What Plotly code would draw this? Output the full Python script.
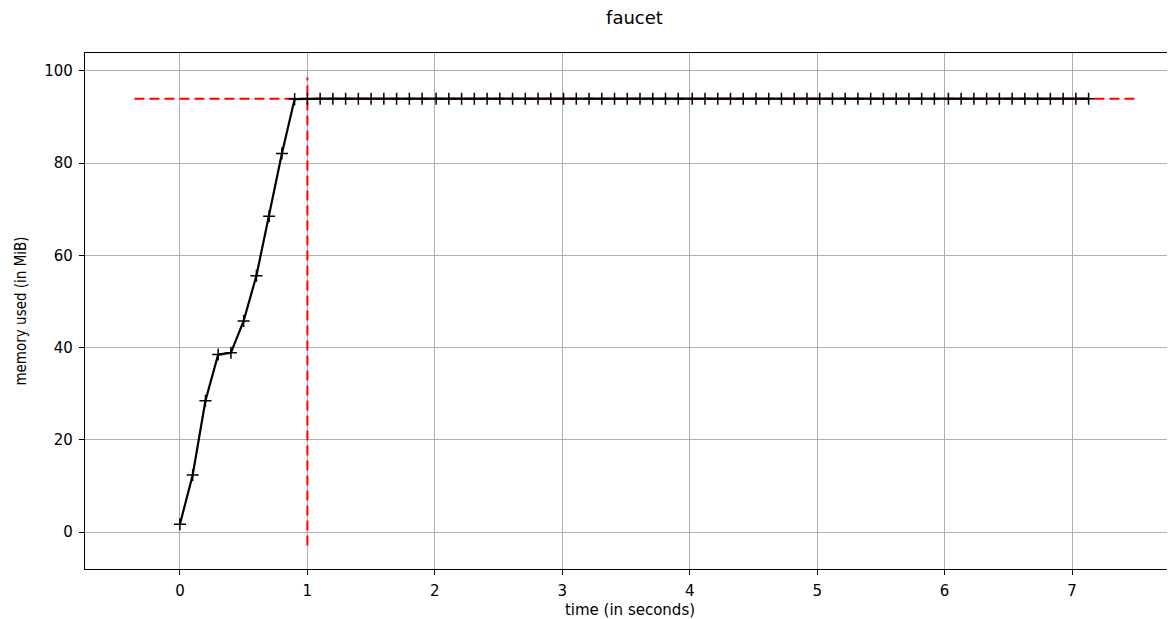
import plotly.graph_objects as go

# data
time_s = [0.00, 0.10, 0.20, 0.30, 0.40, 0.50, 0.60, 0.70, 0.80, 0.90,
          1.00, 1.10, 1.20, 1.30, 1.40, 1.50, 1.60, 1.70, 1.80, 1.90,
          2.01, 2.11, 2.21, 2.31, 2.41, 2.51, 2.61, 2.71, 2.81, 2.91,
          3.01, 3.11, 3.21, 3.31, 3.41, 3.51, 3.61, 3.71, 3.81, 3.91,
          4.02, 4.12, 4.22, 4.32, 4.42, 4.52, 4.62, 4.72, 4.82, 4.92,
          5.02, 5.12, 5.22, 5.32, 5.42, 5.52, 5.62, 5.72, 5.82, 5.92,
          6.03, 6.13, 6.23, 6.33, 6.43, 6.53, 6.63, 6.73, 6.83, 6.93,
          7.03, 7.13]
memory_mib = [1.7, 12.4, 28.5, 38.5, 38.9, 45.8, 55.6, 68.5, 82.1, 93.9,
              94.0, 94.0, 94.0, 94.0, 94.0, 94.0, 94.0, 94.0, 94.0, 94.0,
              94.0, 94.0, 94.0, 94.0, 94.0, 94.0, 94.0, 94.0, 94.0, 94.0,
              94.0, 94.0, 94.0, 94.0, 94.0, 94.0, 94.0, 94.0, 94.0, 94.0,
              94.0, 94.0, 94.0, 94.0, 94.0, 94.0, 94.0, 94.0, 94.0, 94.0,
              94.0, 94.0, 94.0, 94.0, 94.0, 94.0, 94.0, 94.0, 94.0, 94.0,
              94.0, 94.0, 94.0, 94.0, 94.0, 94.0, 94.0, 94.0, 94.0, 94.0,
              94.0, 94.0]
max_mem = 94.0
t_max = 1.00
hline_x = [-0.357, 7.49]
vline_y = [-2.9, 98.6]
x_ticks = [0, 1, 2, 3, 4, 5, 6, 7]
y_ticks = [0, 20, 40, 60, 80, 100]

FONT = "DejaVu Sans"
W, H = 1167, 611  # page body has an 8px margin

fig = go.Figure()
fig.add_trace(go.Scatter(x=hline_x, y=[max_mem, max_mem], mode="lines",
                         line=dict(color="red", width=2, dash="10px,5px"),
                         showlegend=False, hoverinfo="skip"))
fig.add_trace(go.Scatter(x=[t_max, t_max], y=vline_y, mode="lines",
                         line=dict(color="red", width=2, dash="10px,5px"),
                         showlegend=False, hoverinfo="skip"))
fig.add_trace(go.Scatter(x=time_s, y=memory_mib, mode="lines+markers",
                         line=dict(color="black", width=2.2),
                         marker=dict(symbol="cross-thin", size=8.6,
                                     line=dict(color="black", width=1.5)),
                         showlegend=False))

fig.update_layout(
    width=W, height=H, autosize=False,
    margin=dict(l=77, r=0, t=45, b=H - 561, autoexpand=False),
    paper_bgcolor="white", plot_bgcolor="white",
    font=dict(family=FONT, size=15, color="black"),
    title=dict(text="faucet", x=626.5 / W, xanchor="center",
               y=1 - 10 / H, yanchor="middle", yref="container",
               font=dict(family=FONT, size=18, color="black")),
    xaxis=dict(range=[-0.745, 7.808], tickvals=x_ticks, automargin=False,
               showgrid=True, gridcolor="#b0b0b0", gridwidth=1,
               zeroline=False, showline=True, linecolor="black", linewidth=1.3,
               mirror=True, ticks="outside", ticklen=5, tickcolor="black",
               ticklabelstandoff=3,
               title=dict(text="time (in seconds)", standoff=14,
                          font=dict(family=FONT, size=15))),
    yaxis=dict(range=[-8.0, 103.9], tickvals=y_ticks, automargin=False,
               showgrid=True, gridcolor="#b0b0b0", gridwidth=1,
               zeroline=False, showline=True, linecolor="black", linewidth=1.3,
               mirror=False, ticks="outside", ticklen=5, tickcolor="black",
               ticklabelstandoff=3,
               title=dict(text="memory used (in MiB)", standoff=13,
                          font=dict(family="DejaVu Sans Condensed, DejaVu Sans", size=15))),
)

fig.write_html("out.html")
